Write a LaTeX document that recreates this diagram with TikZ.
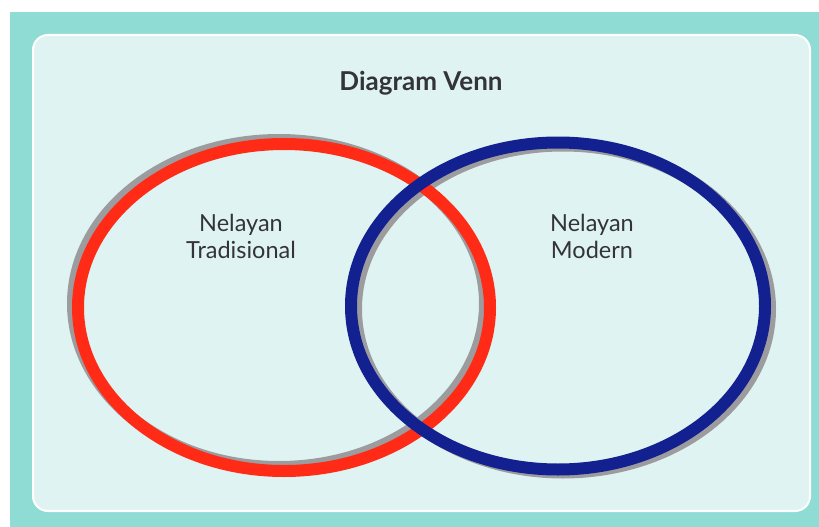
\documentclass[tikz,border=0pt]{standalone}
\usepackage{fontspec}
\setmainfont{Lato}
\usetikzlibrary{calc}

\definecolor{teal bg}{HTML}{8FDCD4}
\definecolor{panel bg}{HTML}{DFF4F2}
\definecolor{venn red}{HTML}{FF2B17}
\definecolor{venn blue}{HTML}{12218F}
\definecolor{shadow gray}{HTML}{9C9C9E}
\definecolor{label gray}{HTML}{333338}

\begin{document}
\begin{tikzpicture}[x=1pt,y=-1pt,
  ring/.style={line width=12pt},
  ring shadow/.style={line width=12pt,draw=shadow gray},
  set label/.style={font=\fontsize{23.5}{27}\selectfont,text=label gray,align=center},
  title label/.style={font=\fontsize{26}{26}\selectfont\bfseries,text=label gray}]

\useasboundingbox (0,0) rectangle (819,527);
\fill[teal bg] (10,12) rectangle (819,527);
\draw[white,line width=2pt,fill=panel bg,rounded corners=15pt] (33,35) rectangle (810,511);

\node[title label](T) at (421,83) {Diagram Venn};

% shadows first, then the rings
\draw[ring shadow] (279,303.5) ellipse [x radius=206,y radius=163.5];
\draw[ring shadow] (563,309) ellipse [x radius=207,y radius=163.5];
\draw[ring,venn red] (284,307.5) ellipse [x radius=206,y radius=163.5];
\draw[ring,venn blue] (558,306) ellipse [x radius=207,y radius=163.5];

\node[set label](L) at (241,236) {Nelayan\\Tradisional};
\node[set label](R) at (592,236) {Nelayan\\Modern};

\end{tikzpicture}
\end{document}
